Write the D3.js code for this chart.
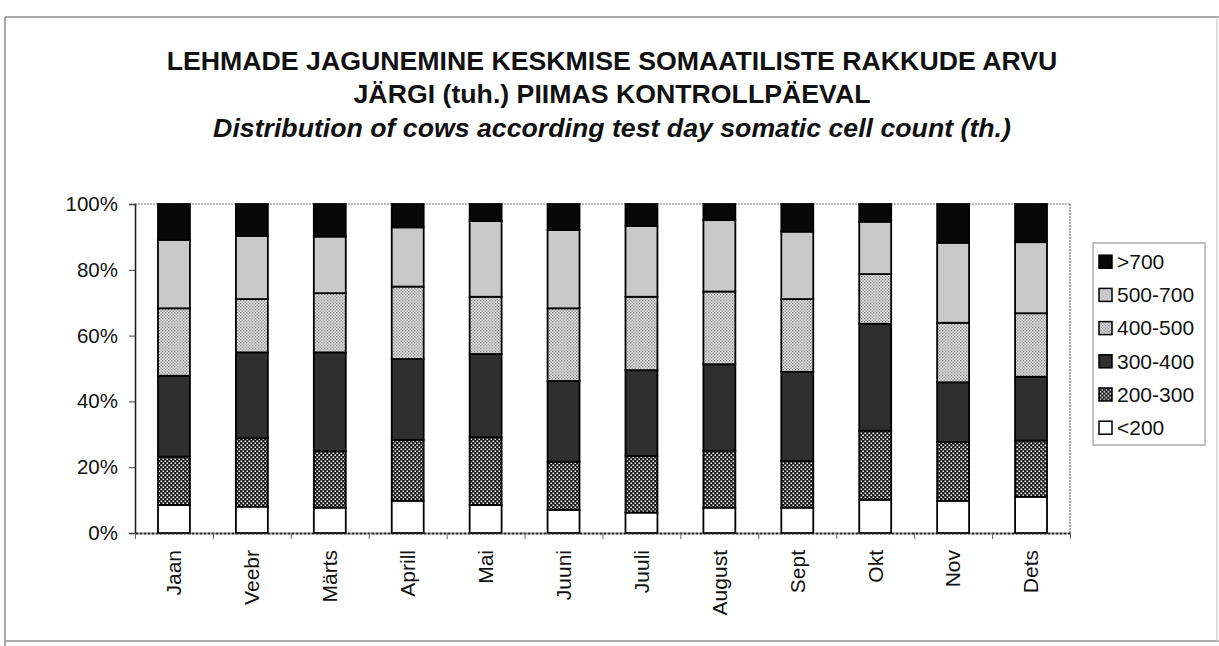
<!DOCTYPE html>
<html>
<head>
<meta charset="utf-8">
<script src="https://cdn.jsdelivr.net/npm/d3@7/dist/d3.min.js"></script>
<style>
  html, body { margin: 0; padding: 0; background: #fff; }
  svg { display: block; }
  text { font-family: "Liberation Sans", Arial, Helvetica, sans-serif; fill: #111; }
</style>
</head>
<body>
<svg id="chart" width="1219" height="646"></svg>
<script>
// ---- data (percent of cows per month) ----
const categories = ["Jaan","Veebr","Märts","Aprill","Mai","Juuni","Juuli","August","Sept","Okt","Nov","Dets"];
const seriesNames = ["<200","200-300","300-400","400-500","500-700",">700"];
const under200 = [8.5, 8.0, 7.7, 9.8, 8.5, 7.0, 6.2, 7.7, 7.7, 10.1, 9.8, 11.0];
const s200_300 = [14.7, 20.8, 17.2, 18.5, 20.6, 14.7, 17.2, 17.3, 14.2, 21.0, 17.8, 17.1];
const s300_400 = [24.6, 26.1, 30.0, 24.6, 25.3, 24.5, 26.1, 26.3, 27.1, 32.5, 18.2, 19.4];
const s400_500 = [20.5, 16.2, 18.0, 22.0, 17.4, 22.1, 22.3, 22.1, 22.1, 15.1, 18.1, 19.3];
const s500_700 = [20.8, 19.2, 17.2, 18.0, 23.0, 23.8, 21.5, 21.7, 20.5, 15.9, 24.3, 21.6];
const over700 = [10.9, 9.7, 9.9, 7.1, 5.2, 7.9, 6.7, 4.9, 8.4, 5.4, 11.8, 11.6];
const yTicks = [0, 0.2, 0.4, 0.6, 0.8, 1.0];
const titleLines = [
  "LEHMADE JAGUNEMINE KESKMISE SOMAATILISTE RAKKUDE ARVU",
  "JÄRGI (tuh.) PIIMAS KONTROLLPÄEVAL"
];
const subtitle = "Distribution of cows according test day somatic cell count (th.)";

const seriesValues = [under200, s200_300, s300_400, s400_500, s500_700, over700];
const rows = categories.map((c, i) => {
  const r = { month: c };
  seriesNames.forEach((s, j) => r[s] = seriesValues[j][i]);
  return r;
});

const svg = d3.select("#chart");
const defs = svg.append("defs");

// patterns
const pDark = defs.append("pattern").attr("id", "pat200").attr("patternUnits", "userSpaceOnUse")
  .attr("width", 4).attr("height", 4);
pDark.append("rect").attr("width", 4).attr("height", 4).attr("fill", "#1a1a1a");
pDark.append("rect").attr("x", 0.5).attr("y", 0.5).attr("width", 1.6).attr("height", 1.6).attr("fill", "#f4f4f4");
pDark.append("rect").attr("x", 2.5).attr("y", 2.5).attr("width", 1.6).attr("height", 1.6).attr("fill", "#f4f4f4");

const pLight = defs.append("pattern").attr("id", "pat400").attr("patternUnits", "userSpaceOnUse")
  .attr("width", 3).attr("height", 3);
pLight.append("rect").attr("width", 3).attr("height", 3).attr("fill", "#e2e2e2");
pLight.append("rect").attr("x", 0).attr("y", 0).attr("width", 1.3).attr("height", 1.3).attr("fill", "#8a8a8a");
pLight.append("rect").attr("x", 1.5).attr("y", 1.5).attr("width", 1.3).attr("height", 1.3).attr("fill", "#8a8a8a");

const fills = {
  "<200": "#ffffff",
  "200-300": "url(#pat200)",
  "300-400": "#2f2f2f",
  "400-500": "url(#pat400)",
  "500-700": "#c9c9c9",
  ">700": "#080808"
};

// frame
const frame = svg.append("g").attr("stroke", "#8c8c8c").attr("stroke-width", 1.5);
frame.append("line").attr("x1", 5).attr("x2", 1219).attr("y1", 17).attr("y2", 17);
frame.append("line").attr("x1", 5).attr("x2", 5).attr("y1", 17).attr("y2", 646);
frame.append("line").attr("x1", 5).attr("x2", 1219).attr("y1", 641).attr("y2", 641);
frame.append("line").attr("x1", 1217).attr("x2", 1217).attr("y1", 17).attr("y2", 641).attr("stroke", "#cfcfcf");

// titles
const cx = 612;
const titleSize = 26.7;
svg.append("text").attr("x", cx).attr("y", 70).attr("text-anchor", "middle")
  .attr("font-size", titleSize).attr("font-weight", "bold").text(titleLines[0]);
svg.append("text").attr("x", cx).attr("y", 103).attr("text-anchor", "middle")
  .attr("font-size", titleSize).attr("font-weight", "bold").text(titleLines[1]);
svg.append("text").attr("x", cx).attr("y", 137).attr("text-anchor", "middle")
  .attr("font-size", titleSize).attr("font-weight", "bold").attr("font-style", "italic").text(subtitle);

// scales
const plotLeft = 135, plotRight = 1070, plotTop = 204, plotBottom = 533;
const x = d3.scaleBand().domain(categories).range([plotLeft, plotRight]).paddingInner(0.59).paddingOuter(0.295);
const y = d3.scaleLinear().domain([0, 1]).range([plotBottom, plotTop]);
const xb = d3.scaleLinear().domain([0, categories.length]).range([plotLeft, plotRight]);

// plot border (top/right)
svg.append("line").attr("x1", plotLeft).attr("x2", plotRight).attr("y1", plotTop).attr("y2", plotTop)
  .attr("stroke", "#777").attr("stroke-width", 1.2).attr("stroke-dasharray", "2,1");
svg.append("line").attr("x1", plotRight).attr("x2", plotRight).attr("y1", plotTop).attr("y2", plotBottom)
  .attr("stroke", "#777").attr("stroke-width", 1.2).attr("stroke-dasharray", "2,1");

// bars
const stack = d3.stack().keys(seriesNames).offset(d3.stackOffsetExpand);
const stacked = stack(rows);
const layers = svg.append("g").selectAll("g").data(stacked).join("g")
  .attr("fill", d => fills[d.key]);
layers.selectAll("rect").data(d => d).join("rect")
  .attr("x", d => x(d.data.month))
  .attr("width", x.bandwidth())
  .attr("y", d => y(d[1]))
  .attr("height", d => y(d[0]) - y(d[1]))
  .attr("stroke", "#000").attr("stroke-width", 1.8);

// y axis
const yAxis = svg.append("g").attr("transform", `translate(${plotLeft},0)`)
  .call(d3.axisLeft(y).tickValues(yTicks).tickFormat(d3.format(".0%")).tickSize(6).tickPadding(11));
yAxis.select(".domain").attr("stroke", "#222").attr("stroke-width", 1.6);
yAxis.selectAll(".tick line").attr("stroke", "#444");
yAxis.selectAll("text").attr("font-size", 20.5).attr("font-family", "Liberation Sans, Arial, sans-serif").attr("fill", "#111");

// x axis ticks between categories
const xTickAxis = svg.append("g").attr("transform", `translate(0,${plotBottom})`)
  .call(d3.axisBottom(xb).tickValues(d3.range(0, categories.length + 1)).tickFormat("").tickSize(6).tickSizeOuter(0));
xTickAxis.select(".domain").attr("stroke", "#222").attr("stroke-width", 1.8).attr("stroke-dasharray", "3,1");
xTickAxis.selectAll(".tick line").attr("stroke", "#666");

// x labels
const xAxis = svg.append("g").attr("transform", `translate(0,${plotBottom})`)
  .call(d3.axisBottom(x).tickSize(0).tickPadding(0));
xAxis.select(".domain").remove();
xAxis.selectAll("text")
  .attr("font-size", 21).attr("font-family", "Liberation Sans, Arial, sans-serif").attr("fill", "#111")
  .attr("text-anchor", "end")
  .attr("transform", "rotate(-90)")
  .attr("x", -17).attr("y", 0).attr("dy", "0.35em");

// legend
const lg = svg.append("g");
lg.append("rect").attr("x", 1093).attr("y", 243).attr("width", 112).attr("height", 202)
  .attr("fill", "#fff").attr("stroke", "#9a9a9a").attr("stroke-width", 1.2);
const legendOrder = seriesNames.slice().reverse();
const items = lg.selectAll("g.item").data(legendOrder).join("g").attr("class", "item")
  .attr("transform", (d, i) => `translate(1099,${261.7 + i * 33.2})`);
items.append("rect").attr("x", 0).attr("y", -6.5).attr("width", 13).attr("height", 13)
  .attr("fill", d => fills[d]).attr("stroke", "#000").attr("stroke-width", 1.5);
items.append("text").attr("x", 18).attr("y", 0).attr("dy", "0.35em")
  .attr("font-size", 21).text(d => d);
</script>
</body>
</html>
